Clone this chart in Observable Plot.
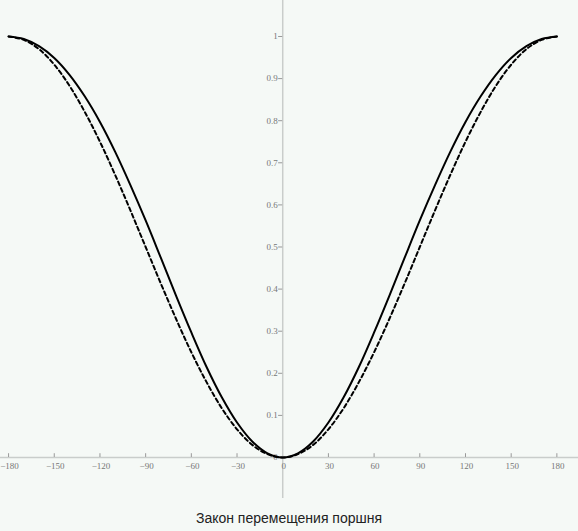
<!DOCTYPE html>
<html>
<head>
<meta charset="utf-8">
<script src="https://cdn.jsdelivr.net/npm/d3@7"></script>
<script src="https://cdn.jsdelivr.net/npm/@observablehq/plot@0.6"></script>
<style>
  html, body { margin: 0; padding: 0; background: #f5f9f6; }
  #chart { width: 578px; height: 498px; }
  #caption { width: 578px; text-align: center; margin-top: 10px; font: 14px "Liberation Sans", Arial, sans-serif; color: #222; line-height: 20px; }
</style>
</head>
<body>
<div id="chart"></div>
<div id="caption">Закон перемещения поршня</div>
<script>
const angles = [-180,-170,-160,-150,-140,-130,-120,-110,-100,-90,-80,-70,-60,-50,-40,-30,-20,-10,0,10,20,30,40,50,60,70,80,90,100,110,120,130,140,150,160,170,180];
const solidValues = [1,0.994,0.977,0.949,0.909,0.858,0.797,0.726,0.647,0.563,0.474,0.384,0.297,0.215,0.143,0.083,0.038,0.010,0,0.010,0.038,0.083,0.143,0.215,0.297,0.384,0.474,0.563,0.647,0.726,0.797,0.858,0.909,0.949,0.977,0.994,1];
const dashedValues = [1,0.992,0.970,0.933,0.883,0.821,0.750,0.671,0.587,0.500,0.413,0.329,0.250,0.179,0.117,0.067,0.030,0.008,0,0.008,0.030,0.067,0.117,0.179,0.250,0.329,0.413,0.500,0.587,0.671,0.750,0.821,0.883,0.933,0.970,0.992,1];
const xTicks = [-180,-150,-120,-90,-60,-30,0,30,60,90,120,150,180];
const xTickLabels = ["\u2212180","\u2212150","\u2212120","\u221290","\u221260","\u221230","0","30","60","90","120","150","180"];
const yTicks = [0,0.1,0.2,0.3,0.4,0.5,0.6,0.7,0.8,0.9,1];
const yTickLabels = ["0","0.1","0.2","0.3","0.4","0.5","0.6","0.7","0.8","0.9","1"];

const solid = angles.map((a, i) => ({a, v: solidValues[i]}));
const dashed = angles.map((a, i) => ({a, v: dashedValues[i]}));
const axisColor = "#c9cdcb";
const labelFont = "'Liberation Serif', 'DejaVu Serif', serif";

const plot = Plot.plot({
  width: 578,
  height: 498,
  margin: 0,
  style: {background: "transparent", overflow: "visible"},
  x: {domain: [-185.3, 194.2], axis: null},
  y: {domain: [-0.0974, 1.0855], axis: null},
  marks: [
    Plot.ruleY([0], {stroke: axisColor, strokeWidth: 1.5}),
    Plot.ruleX([0], {stroke: axisColor, strokeWidth: 1.5}),
    Plot.ruleX(xTicks.filter(d => d !== 0), {x: d => d, y1: 0, y2: 0.009, stroke: "#999", strokeWidth: 1}),
    Plot.ruleY(yTicks.filter(d => d !== 0), {y: d => d, x1: -2.7, x2: 0, stroke: "#999", strokeWidth: 1}),
    Plot.text(xTicks, {x: d => d, y: 0, dy: 9, text: (d, i) => xTickLabels[i], fill: "#777", fontSize: 9, fontFamily: labelFont, dx: 1}),
    Plot.text(yTicks, {x: 0, y: d => d, dx: -5, text: (d, i) => yTickLabels[i], textAnchor: "end", fill: "#777", fontSize: 9, fontFamily: labelFont}),
    Plot.line(dashed, {x: "a", y: "v", stroke: "#000", strokeWidth: 2, strokeDasharray: "4,3", curve: "catmull-rom"}),
    Plot.line(solid, {x: "a", y: "v", stroke: "#000", strokeWidth: 2, curve: "catmull-rom"})
  ]
});
document.getElementById("chart").appendChild(plot);
</script>
</body>
</html>
